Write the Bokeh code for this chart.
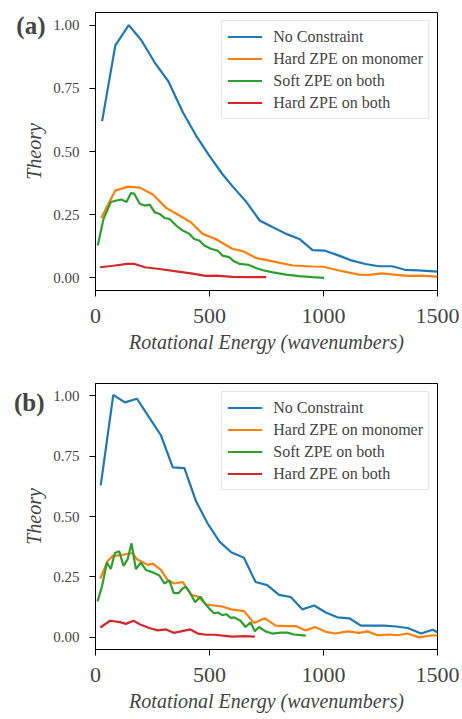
from bokeh.plotting import figure
from bokeh.layouts import column
from bokeh.models import FixedTicker, PrintfTickFormatter, Range1d, LinearAxis, CustomJSTickFormatter
from bokeh.embed import file_html
from bokeh.resources import INLINE

FONT = "Liberation Serif"

labels = ["No Constraint", "Hard ZPE on monomer", "Soft ZPE on both", "Hard ZPE on both"]
colors = ["#1f77b4", "#ff7f0e", "#2ca02c", "#d62728"]
x_ticks = [0, 500, 1000, 1500]
y_ticks = [0.0, 0.25, 0.5, 0.75, 1.0]

# ---- panel (a)
a_blue_x = [29, 87, 146, 201, 259, 320, 383, 441, 499, 557, 604, 662, 720, 778, 836, 894, 952, 1003, 1068, 1126, 1184, 1242, 1300, 1358, 1416, 1500]
a_blue_y = [0.62, 0.92, 1.00, 0.94, 0.853, 0.777, 0.655, 0.563, 0.484, 0.41, 0.359, 0.30, 0.227, 0.20, 0.174, 0.154, 0.11, 0.108, 0.088, 0.068, 0.055, 0.046, 0.046, 0.032, 0.030, 0.025]
a_orange_x = [25, 86, 143, 194, 252, 310, 368, 418, 470, 527, 600, 648, 706, 778, 865, 952, 1000, 1068, 1155, 1200, 1256, 1310, 1368, 1425, 1500]
a_orange_y = [0.237, 0.345, 0.361, 0.357, 0.33, 0.277, 0.247, 0.22, 0.174, 0.154, 0.115, 0.105, 0.078, 0.065, 0.049, 0.045, 0.044, 0.029, 0.013, 0.012, 0.018, 0.013, 0.008, 0.009, 0.005]
a_green_x = [10, 35, 67, 93, 114, 136, 155, 170, 194, 216, 238, 259, 281, 303, 325, 354, 383, 412, 433, 455, 477, 506, 535, 557, 586, 604, 633, 670, 706, 735, 778, 836, 894, 952, 1003]
a_green_y = [0.128, 0.233, 0.30, 0.306, 0.31, 0.30, 0.335, 0.333, 0.293, 0.286, 0.29, 0.26, 0.253, 0.237, 0.233, 0.207, 0.187, 0.174, 0.154, 0.148, 0.128, 0.115, 0.108, 0.088, 0.082, 0.068, 0.055, 0.052, 0.038, 0.030, 0.022, 0.013, 0.007, 0.003, 0.0]
a_red_x = [20, 78, 139, 172, 216, 281, 354, 426, 484, 527, 600, 680, 749]
a_red_y = [0.042, 0.048, 0.055, 0.055, 0.042, 0.035, 0.026, 0.017, 0.008, 0.009, 0.004, 0.003, 0.003]

# ---- panel (b)
b_blue_x = [23, 78, 129, 182, 236, 287, 339, 390, 441, 493, 544, 595, 651, 702, 753, 805, 856, 907, 959, 1010, 1061, 1113, 1164, 1215, 1267, 1318, 1369, 1428, 1479, 1504]
b_blue_y = [0.629, 1.003, 0.972, 0.987, 0.909, 0.836, 0.703, 0.70, 0.563, 0.469, 0.396, 0.352, 0.329, 0.229, 0.216, 0.176, 0.167, 0.116, 0.132, 0.103, 0.083, 0.079, 0.049, 0.049, 0.049, 0.045, 0.039, 0.016, 0.032, 0.019]
b_orange_x = [21, 53, 75, 126, 163, 182, 229, 251, 287, 317, 346, 383, 419, 449, 485, 522, 559, 595, 651, 695, 743, 790, 841, 878, 922, 963, 1010, 1054, 1105, 1157, 1193, 1237, 1289, 1325, 1369, 1420, 1464, 1504]
b_orange_y = [0.243, 0.316, 0.336, 0.343, 0.349, 0.323, 0.30, 0.305, 0.279, 0.236, 0.223, 0.229, 0.176, 0.169, 0.136, 0.132, 0.127, 0.116, 0.109, 0.06, 0.079, 0.049, 0.047, 0.047, 0.029, 0.043, 0.023, 0.016, 0.025, 0.019, 0.025, 0.009, 0.012, 0.009, 0.016, 0.0, 0.007, 0.009]
b_green_x = [9, 28, 50, 67, 85, 104, 123, 141, 158, 177, 199, 221, 251, 280, 302, 324, 343, 364, 383, 397, 416, 437, 460, 478, 496, 519, 537, 556, 573, 595, 607, 636, 658, 680, 699, 717, 746, 775, 812, 841, 871, 922]
b_green_y = [0.149, 0.209, 0.309, 0.283, 0.349, 0.356, 0.296, 0.323, 0.389, 0.283, 0.309, 0.279, 0.269, 0.256, 0.223, 0.236, 0.183, 0.183, 0.203, 0.209, 0.183, 0.145, 0.169, 0.143, 0.123, 0.10, 0.103, 0.092, 0.096, 0.08, 0.083, 0.069, 0.043, 0.063, 0.025, 0.043, 0.025, 0.016, 0.020, 0.020, 0.012, 0.007]
b_red_x = [21, 64, 108, 133, 167, 199, 236, 273, 309, 343, 375, 416, 449, 485, 522, 559, 600, 651, 699]
b_red_y = [0.041, 0.069, 0.063, 0.056, 0.069, 0.052, 0.039, 0.029, 0.033, 0.019, 0.025, 0.033, 0.016, 0.011, 0.011, 0.007, 0.003, 0.005, 0.003]


def make_panel(series, tag, tag_y, tag_standoff, height, mb_left, mb_top, mb_right, mb_bottom):
    p = figure(width=462, height=height, output_backend="svg", toolbar_location=None,
               x_range=Range1d(0, 1500), y_range=Range1d(-0.05, 1.05),
               min_border_left=mb_left, min_border_top=mb_top,
               min_border_right=mb_right, min_border_bottom=mb_bottom)
    for (xs, ys), lab, col in zip(series, labels, colors):
        p.line(xs, ys, line_color=col, line_width=2.2, legend_label=lab)
    p.xgrid.visible = False
    p.ygrid.visible = False
    p.outline_line_color = "black"

    p.xaxis.ticker = FixedTicker(ticks=x_ticks)
    p.yaxis.ticker = FixedTicker(ticks=y_ticks)
    p.yaxis.formatter = PrintfTickFormatter(format="%.2f")
    p.axis.major_tick_out = 6
    p.axis.major_tick_in = 0
    p.axis.major_label_text_font = FONT
    p.axis.axis_label_text_font = FONT
    p.axis.axis_label_text_font_size = "20px"
    p.xaxis.major_label_text_font_size = "22px"
    p.yaxis.major_label_text_font_size = "15px"
    p.xaxis.major_label_standoff = 12
    p.yaxis.major_label_standoff = 10
    p.xaxis.axis_label = "Rotational Energy (wavenumbers)"
    p.yaxis.axis_label = "Theory"

    # panel tag, drawn as a single bold tick label on an extra, invisible left axis
    tag_axis = LinearAxis(ticker=FixedTicker(ticks=[tag_y]),
                          formatter=CustomJSTickFormatter(code="return '%s';" % tag))
    tag_axis.axis_line_alpha = 0
    tag_axis.major_tick_line_alpha = 0
    tag_axis.major_tick_out = 0
    tag_axis.major_tick_in = 0
    tag_axis.major_label_standoff = tag_standoff
    tag_axis.major_label_text_font = FONT
    tag_axis.major_label_text_font_size = "25px"
    tag_axis.major_label_text_font_style = "bold"
    p.add_layout(tag_axis, "left")

    lg = p.legend[0]
    lg.location = "top_right"
    lg.margin = 8
    lg.padding = 5
    lg.spacing = 1
    lg.glyph_width = 35
    lg.glyph_height = 21
    lg.label_height = 21
    lg.label_standoff = 11
    lg.label_text_font = FONT
    lg.label_text_font_size = "16px"
    lg.border_line_color = "#cccccc"
    lg.background_fill_alpha = 0.8
    return p


pa = make_panel([(a_blue_x, a_blue_y), (a_orange_x, a_orange_y), (a_green_x, a_green_y), (a_red_x, a_red_y)],
                "(a)", 1.0, -25, 360, 92, 12, 24, 70)
pb = make_panel([(b_blue_x, b_blue_y), (b_orange_x, b_orange_y), (b_green_x, b_green_y), (b_red_x, b_red_y)],
                "(b)", 0.97, -24, 359, 95, 23, 25, 70)

layout = column(pa, pb, spacing=0)
open("out.html", "w").write(file_html(layout, INLINE))
